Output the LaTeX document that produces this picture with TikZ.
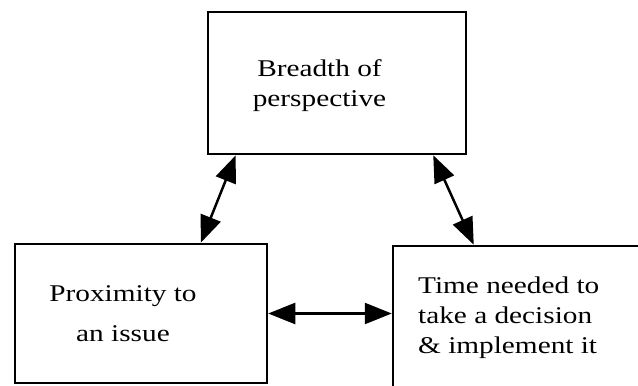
\documentclass[tikz,border=0pt]{standalone}
\usepackage{fontspec}
\setmainfont{Liberation Serif}[FakeStretch=1.22]
\usetikzlibrary{arrows.meta,positioning,calc}
\tikzset{
    box/.style={draw, rectangle, line width=2.5pt, inner sep=0pt},
    boxtext/.style={inner sep=0pt, font=\fontsize{24}{30}\selectfont},
    link/.style={{Triangle[length=27pt,width=21pt]}-{Triangle[length=27pt,width=21pt]}, line width=2.5pt}
}
\begin{document}
\begin{tikzpicture}[x=1pt, y=-1pt]
        \useasboundingbox (0,0) rectangle (638,386);
        \clip (0,0) rectangle (638,386);

        % Boxes
        \node[box, minimum width=258pt, minimum height=142pt] (breadth) at (337,83) {};
        \node[box, minimum width=252pt, minimum height=139pt] (proximity) at (141,313.5) {};
        \node[box, minimum width=274pt, minimum height=168pt] (timeneeded) at (530,330) {};

        % Texts
        \node[boxtext, align=center] (breadthtxt) at (319.5,85.4) {Breadth of\\perspective};
        \node[boxtext, align=center, font=\fontsize{24}{40}\selectfont] (proximitytxt) at (123,313.8) {Proximity to\\an issue};
        \node[boxtext, align=left, anchor=west] (timetxt) at (418,317.4) {Time needed to\\take a decision\\\& implement it};

        % Links
        \draw[link] ([xshift=29pt]breadth.south west) -- ([xshift=187pt]proximity.north west);
        \draw[link] ([xshift=-34pt]breadth.south east) -- ([xshift=82pt]timeneeded.north west);
        \draw[link] (proximity.east) -- (proximity.east -| timeneeded.west);
    \end{tikzpicture}
\end{document}
